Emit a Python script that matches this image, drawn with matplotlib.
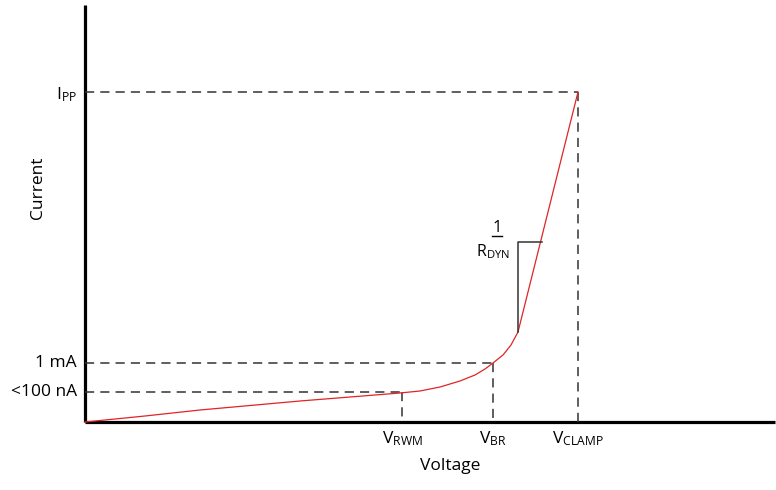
import matplotlib
matplotlib.use("Agg")
import matplotlib.pyplot as plt

plt.rcParams['font.family'] = ['Open Sans', 'DejaVu Sans']
plt.rcParams['mathtext.fontset'] = 'custom'
plt.rcParams['mathtext.rm'] = 'Open Sans'

# I-V curve (arbitrary units: voltage, current)
voltage = [0.00, 0.60, 1.15, 1.65, 2.15, 2.65, 3.15, 3.35, 3.55, 3.75, 3.90, 4.00, 4.08, 4.18, 4.26, 4.33, 4.93]
current = [0.00, 0.06, 0.12, 0.165, 0.21, 0.25, 0.29, 0.31, 0.35, 0.41, 0.47, 0.53, 0.59, 0.67, 0.77, 0.90, 3.30]

# reference levels
v_rwm, v_br, v_clamp = 3.17, 4.08, 4.93
i_leak, i_1ma, i_pp = 0.30, 0.59, 3.30
y_labels = ['<100 nA', '1 mA', r'$\mathregular{I_{PP}}$']
x_labels = [r'$\mathregular{V_{RWM}}$', r'$\mathregular{V_{BR}}$', r'$\mathregular{V_{CLAMP}}$']

fig = plt.figure(figsize=(7.76, 4.90), dpi=100)
ax = fig.add_axes([0, 0, 1, 1])
ax.set_xlim(-0.85, 6.91)
ax.set_ylim(-0.68, 4.22)
ax.axis('off')

# axes lines
ax.plot([0, 0], [0, 4.17], color='black', lw=2.3, solid_capstyle='butt')
ax.plot([0, 6.90], [0, 0], color='black', lw=2.3, solid_capstyle='butt')

dash = dict(color='#333333', lw=1.1, dashes=(6, 4))
# dashed guides
for v, i in [(v_rwm, i_leak), (v_br, i_1ma), (v_clamp, i_pp)]:
    ax.plot([0, v], [i, i], **dash)
    ax.plot([v, v], [i, 0], **dash)

# curve
ax.plot(voltage, current, color='#e02424', lw=0.9)

# slope triangle
ax.plot([4.33, 4.33, 4.57], [0.90, 1.80, 1.80], color='#333333', lw=1.1)
ax.text(4.12, 1.94, '1', ha='center', va='center', fontsize=12)
ax.plot([4.07, 4.17], [1.86, 1.86], color='black', lw=1.0)
ax.text(4.08, 1.70, r'$\mathregular{R_{DYN}}$', ha='center', va='center', fontsize=11.5)

# y labels
for lab, i, dy in zip(y_labels, [i_leak, i_1ma, i_pp], [0.0, 0.0, -0.03]):
    ax.text(-0.08, i + dy, lab, ha='right', va='center', fontsize=12.5)

# x labels
for lab, v in zip(x_labels, [v_rwm, v_br, v_clamp]):
    ax.text(v, -0.17, lab, ha='center', va='center', fontsize=12.5)

ax.text(3.65, -0.44, 'Voltage', ha='center', va='center', fontsize=12.5)
ax.text(-0.47, 2.34, 'Current', ha='center', va='center', rotation=90, fontsize=12.5)

fig.savefig('out.png', dpi=100)
